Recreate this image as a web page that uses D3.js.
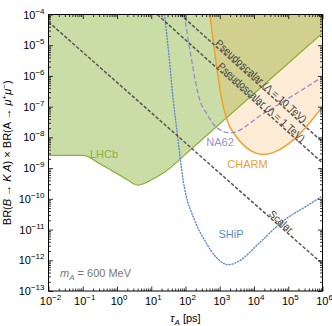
<!DOCTYPE html>
<html>
<head>
<meta charset="utf-8">
<script src="https://cdn.jsdelivr.net/npm/d3@7"></script>
<style>
  body { margin: 0; background: #fff; }
  svg { display: block; font-family: "Liberation Sans", Arial, sans-serif; }
</style>
</head>
<body>
<svg id="svg" width="332" height="326"></svg>
<script>
// DATA //

// LHCb excluded region (lower boundary), tau in ps
const lhcbTau = [0.01, 0.1, 0.32, 0.7, 2.0, 3.0, 4.2, 6, 10, 28, 150, 1e6];
const lhcbBR  = [2.6e-9, 2.6e-9, 1.38e-9, 8.3e-10, 4.2e-10, 3.1e-10, 2.8e-10, 3.1e-10, 4.1e-10, 8.2e-10, 4.3e-9, 2.5e-5];

// CHARM excluded region (lower boundary)
const charmTau = [518, 1160, 1980, 2430, 5430, 8700, 18000, 56000, 1.7e5, 1e6];
const charmBR  = [1e-4, 1.6e-7, 2.15e-8, 1.5e-8, 5.1e-9, 3.5e-9, 2.75e-9, 4e-9, 1e-8, 1e-7];

// NA62 projection
const na62Tau = [91, 97, 135, 263, 417, 813, 2000, 18600, 1e6];
const na62BR  = [1e-4, 6.6e-5, 6.9e-6, 1.6e-7, 5.9e-8, 2.1e-8, 1.4e-8, 5.9e-8, 9.3e-7];

// SHiP projection
const shipTau = [24.5, 32, 44, 56, 86, 189, 370, 813, 1780, 4000, 12600, 70800, 4.3e5, 1e6];
const shipBR  = [1e-4, 6.3e-6, 1.6e-7, 1.7e-8, 3.9e-10, 1.9e-11, 4.3e-12, 1.2e-12, 7.2e-13, 1e-12, 3.2e-12, 1.9e-11, 6.8e-11, 1.26e-10];

// Model lines (BR ~ 1/tau)
const scalarTau = [0.01, 1e6];
const scalarBR  = [5.75e-5, 7.6e-13];
const pseudo10Tau = [70.8, 1e6];
const pseudo10BR  = [1e-4, 7.1e-9];
const pseudo1Tau = [14.9, 1e6];
const pseudo1BR  = [1e-4, 1.48e-9];

// Axis ticks
const xTickExp = [-2, -1, 0, 1, 2, 3, 4, 5, 6];
const yTickExp = [-13, -12, -11, -10, -9, -8, -7, -6, -5, -4];

// MAIN //

const svg = d3.select("#svg");
const margin = {top: 14.5, right: 9.5, bottom: 35, left: 48.5};
const width = 332 - margin.left - margin.right;
const height = 326 - margin.top - margin.bottom;

const g = svg.append("g")
  .attr("transform", `translate(${margin.left},${margin.top})`);

const x = d3.scaleLog().domain([1e-2, 1e6]).range([0, width]);
const y = d3.scaleLog().domain([1e-13, 1e-4]).range([height, 0]);

const zip = (ts, bs) => ts.map((t, i) => [t, bs[i]]);

svg.append("defs").append("clipPath").attr("id", "clip")
  .append("rect").attr("width", width).attr("height", height);

const plot = g.append("g").attr("clip-path", "url(#clip)");

const area = d3.area()
  .x(d => x(d[0])).y0(d => y(d[1])).y1(-2)
  .curve(d3.curveMonotoneX);
const line = d3.line()
  .x(d => x(d[0])).y(d => y(d[1]))
  .curve(d3.curveMonotoneX);

// Filled regions
plot.append("path").attr("d", area(zip(lhcbTau, lhcbBR)))
  .attr("fill", "rgb(140,180,60)").attr("fill-opacity", 0.45);
plot.append("path").attr("d", area(zip(charmTau, charmBR)))
  .attr("fill", "rgb(240,160,48)").attr("fill-opacity", 0.2);

// Boundaries
plot.append("path").attr("d", line(zip(lhcbTau, lhcbBR)))
  .attr("fill", "none").attr("stroke", "#8db33d").attr("stroke-width", 1.3);
plot.append("path").attr("d", line(zip(charmTau, charmBR)))
  .attr("fill", "none").attr("stroke", "#f0a030").attr("stroke-width", 1.5);
plot.append("path").attr("d", line(zip(na62Tau, na62BR)))
  .attr("fill", "none").attr("stroke", "#9a8fd2").attr("stroke-width", 1.4)
  .attr("stroke-dasharray", "5,2.5");
plot.append("path").attr("d", line(zip(shipTau, shipBR)))
  .attr("fill", "none").attr("stroke", "#5b8ad0").attr("stroke-width", 1.4)
  .attr("stroke-dasharray", "1,2").attr("stroke-linecap", "round");

// Model lines
[[scalarTau, scalarBR], [pseudo10Tau, pseudo10BR], [pseudo1Tau, pseudo1BR]].forEach(([ts, bs]) => {
  plot.append("path").attr("d", d3.line().x(d => x(d[0])).y(d => y(d[1]))(zip(ts, bs)))
    .attr("fill", "none").attr("stroke", "#555").attr("stroke-width", 1.5)
    .attr("stroke-dasharray", "3.5,1.8");
});

// Rotated label along a model line
function lineLabel(ts, bs, tAt, text, dy) {
  const ang = Math.atan2(y(bs[1]) - y(bs[0]), x(ts[1]) - x(ts[0])) * 180 / Math.PI;
  const k = (Math.log10(tAt) - Math.log10(ts[0])) / (Math.log10(ts[1]) - Math.log10(ts[0]));
  const b = Math.pow(10, Math.log10(bs[0]) + k * (Math.log10(bs[1]) - Math.log10(bs[0])));
  g.append("text")
    .attr("transform", `translate(${x(tAt)},${y(b)}) rotate(${ang})`)
    .attr("dy", dy)
    .attr("font-size", "10px").attr("fill", "#444")
    .text(text);
}
lineLabel(pseudo10Tau, pseudo10BR, 680, "Pseudoscalar (Λ = 10 TeV)", -1);
lineLabel(pseudo1Tau, pseudo1BR, 800, "Pseudoscalar (Λ = 1 TeV)", -1);
lineLabel(scalarTau, scalarBR, 25000, "Scalar", -1);

// Region labels
const label = (tx, ty, text, color) => g.append("text")
  .attr("x", tx).attr("y", ty).attr("text-anchor", "middle")
  .attr("font-size", "11px").attr("fill", color).text(text);
label(104 - margin.left, 158 - margin.top, "LHCb", "#8db33d");
label(220 - margin.left, 146 - margin.top, "NA62", "#9a8fd2");
label(247.5 - margin.left, 168 - margin.top, "CHARM", "#f0a030");
label(231 - margin.left, 238 - margin.top, "SHiP", "#5b8ad0");

const mass = g.append("text").attr("x", 60 - margin.left).attr("y", 277 - margin.top)
  .attr("font-size", "11px").attr("fill", "#777");
mass.append("tspan").attr("font-style", "italic").text("m");
mass.append("tspan").attr("font-size", "8px").attr("dy", 2.5).attr("font-style", "italic").text("A");
mass.append("tspan").attr("dy", -2.5).text(" = 600 MeV");

// AXES //

const minors = [];
for (let e = -13; e < 6; e++) for (let m = 2; m <= 9; m++) minors.push(m * Math.pow(10, e));
const xMinor = minors.filter(v => v > 1e-2 && v < 1e6);
const yMinor = minors.filter(v => v > 1e-13 && v < 1e-4);
const xMajor = xTickExp.map(e => Math.pow(10, e));
const yMajor = yTickExp.map(e => Math.pow(10, e));

const tickAxis = (gen, vals, size, tr) => g.append("g")
  .attr("transform", tr)
  .call(gen.tickValues(vals).tickSize(size).tickFormat(""))
  .call(s => s.select(".domain").remove())
  .call(s => s.selectAll("line").attr("stroke", "#000").attr("stroke-width", 0.8));

tickAxis(d3.axisBottom(x), xMajor, -4.5, `translate(0,${height})`);
tickAxis(d3.axisBottom(x), xMinor, -2.5, `translate(0,${height})`);
tickAxis(d3.axisTop(x), xMajor, -4.5, "translate(0,0)");
tickAxis(d3.axisTop(x), xMinor, -2.5, "translate(0,0)");
tickAxis(d3.axisLeft(y), yMajor, -4.5, "translate(0,0)");
tickAxis(d3.axisLeft(y), yMinor, -2.5, "translate(0,0)");
tickAxis(d3.axisRight(y), yMajor, -4.5, `translate(${width},0)`);
tickAxis(d3.axisRight(y), yMinor, -2.5, `translate(${width},0)`);

g.append("rect").attr("width", width).attr("height", height)
  .attr("fill", "none").attr("stroke", "#000").attr("stroke-width", 1);

// Tick labels with superscript exponents
function powLabel(sel, e) {
  sel.append("tspan").text("10");
  sel.append("tspan").attr("font-size", "8px").attr("dy", -5)
    .text(e < 0 ? "\u2212" + (-e) : String(e));
}
xTickExp.forEach(e => {
  const t = g.append("text").attr("x", x(Math.pow(10, e)) + 2).attr("y", height + 14)
    .attr("text-anchor", "middle").attr("font-size", "11px").attr("fill", "#000");
  powLabel(t, e);
});
yTickExp.forEach(e => {
  const t = g.append("text").attr("x", -4).attr("y", y(Math.pow(10, e)) + 4)
    .attr("text-anchor", "end").attr("font-size", "11px").attr("fill", "#000");
  powLabel(t, e);
});

// Axis titles
const xt = g.append("text").attr("x", width / 2).attr("y", height + 31)
  .attr("text-anchor", "middle").attr("font-size", "11px");
xt.append("tspan").attr("font-style", "italic").text("τ");
xt.append("tspan").attr("font-style", "italic").attr("font-size", "8px").attr("dy", 2.5).text("A");
xt.append("tspan").attr("dy", -2.5).text(" [ps]");

const yt = g.append("text")
  .attr("transform", `translate(${-38},${height / 2}) rotate(-90)`)
  .attr("text-anchor", "middle").attr("font-size", "11px");
yt.append("tspan").text("BR(");
yt.append("tspan").attr("font-style", "italic").text("B");
yt.append("tspan").text(" → ");
yt.append("tspan").attr("font-style", "italic").text("K A");
yt.append("tspan").text(") × BR(A → ");
yt.append("tspan").attr("font-style", "italic").text("μ");
yt.append("tspan").attr("font-size", "8px").attr("dy", -4).text("+");
yt.append("tspan").attr("font-style", "italic").attr("dy", 4).text("μ");
yt.append("tspan").attr("font-size", "8px").attr("dy", -4).text("−");
yt.append("tspan").attr("dy", 4).text(")");
</script>
</body>
</html>
